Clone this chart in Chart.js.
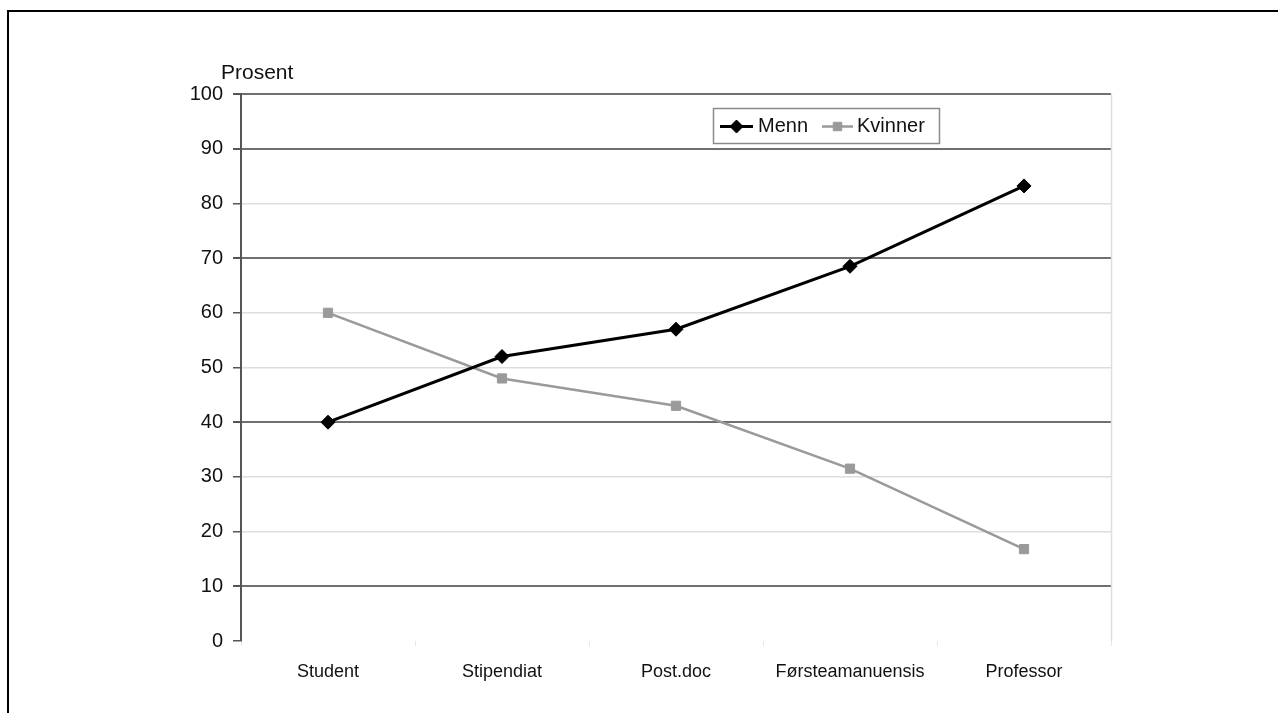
<!DOCTYPE html>
<html>
<head>
<meta charset="utf-8">
<script src="https://cdn.jsdelivr.net/npm/chart.js@4/dist/chart.umd.min.js"></script>
<style>
  html, body { margin: 0; padding: 0; background: #fff; }
  #wrap { position: relative; width: 1278px; height: 713px; }
</style>
</head>
<body>
<div id="wrap"><canvas id="chart" width="1278" height="713"></canvas></div>
<script>
// data
const categories = ['Student', 'Stipendiat', 'Post.doc', 'Førsteamanuensis', 'Professor'];
const menn = [40, 52, 57, 68.5, 83.2];
const kvinner = [60, 48, 43, 31.5, 16.8];
const yTicks = [0, 10, 20, 30, 40, 50, 60, 70, 80, 90, 100];
const darkGrid = [100, 90, 70, 40, 10]; // scanned picture: some gridlines come out darker

const FONT = '"Liberation Sans", Arial, sans-serif';

// frame, y title, legend box, right edge of plot
const extras = {
  id: 'extras',
  beforeDraw(chart) {
    const c = chart.ctx;
    c.save();
    c.fillStyle = '#fff';
    c.fillRect(0, 0, chart.width, chart.height);
    c.fillStyle = '#000';
    c.fillRect(7, 10, chart.width - 7, 2);
    c.fillRect(7, 10, 2, chart.height - 10);
    c.restore();
  },
  afterDraw(chart) {
    const c = chart.ctx;
    const a = chart.chartArea;
    c.save();
    // faint right border of plot area
    c.strokeStyle = '#dedede';
    c.lineWidth = 1.5;
    c.beginPath();
    c.moveTo(a.right + 0.5, a.top);
    c.lineTo(a.right + 0.5, a.bottom);
    c.stroke();

    // "Prosent"
    c.fillStyle = '#111';
    c.font = '21px ' + FONT;
    c.textAlign = 'left';
    c.textBaseline = 'middle';
    c.fillText('Prosent', 221, 73);

    // legend
    const lx = 713, ly = 108, lw = 226, lh = 35;
    c.fillStyle = '#fff';
    c.fillRect(lx, ly, lw, lh);
    c.strokeStyle = '#8a8a8a';
    c.lineWidth = 1.5;
    c.strokeRect(lx + 0.5, ly + 0.5, lw, lh);
    const cy = ly + lh / 2 + 1;
    const items = [
      { label: 'Menn', color: '#000', width: 3, style: 'rectRot', r: 6.5, x0: 720, x1: 753, tx: 758 },
      { label: 'Kvinner', color: '#9a9a9a', width: 2.5, style: 'rect', r: 6, x0: 822, x1: 853, tx: 857 }
    ];
    items.forEach(it => {
      c.strokeStyle = it.color;
      c.lineWidth = it.width;
      c.beginPath();
      c.moveTo(it.x0, cy);
      c.lineTo(it.x1, cy);
      c.stroke();
      c.fillStyle = it.color;
      c.lineWidth = 1;
      Chart.helpers.drawPoint(c, { pointStyle: it.style, radius: it.r, borderWidth: 1 }, (it.x0 + it.x1) / 2, cy);
      c.fillStyle = '#111';
      c.font = '20px ' + FONT;
      c.textBaseline = 'middle';
      c.fillText(it.label, it.tx, cy);
    });
    c.restore();
  }
};

new Chart(document.getElementById('chart'), {
  type: 'line',
  data: {
    labels: categories,
    datasets: [
      {
        label: 'Menn',
        data: menn,
        borderColor: '#000',
        backgroundColor: '#000',
        borderWidth: 3,
        pointStyle: 'rectRot',
        pointRadius: 7,
        pointBorderWidth: 1,
        tension: 0
      },
      {
        label: 'Kvinner',
        data: kvinner,
        borderColor: '#9a9a9a',
        backgroundColor: '#9a9a9a',
        borderWidth: 2.5,
        pointStyle: 'rect',
        pointRadius: 6.5,
        pointBorderWidth: 1,
        tension: 0
      }
    ]
  },
  options: {
    responsive: false,
    animation: false,
    layout: { padding: { top: 94, right: 167, left: 0, bottom: 0 } },
    plugins: {
      legend: { display: false },
      tooltip: { enabled: false }
    },
    scales: {
      x: {
        offset: true,
        afterFit: s => { s.height = 72; },
        border: { display: false },
        grid: {
          offset: true,
          drawOnChartArea: false,
          tickLength: 5,
          color: '#e6e6e6'
        },
        ticks: {
          color: '#111',
          font: { family: FONT, size: 18 },
          padding: 15,
          maxRotation: 0
        }
      },
      y: {
        min: 0,
        max: 100,
        afterFit: s => { s.width = 241; },
        afterBuildTicks: s => { s.ticks = yTicks.map(v => ({ value: v })); },
        border: { display: true, color: '#555', width: 2 },
        grid: {
          color: ctx => {
            const v = ctx.tick && ctx.tick.value;
            if (v === 0) return 'rgba(0,0,0,0)';
            return darkGrid.includes(v) ? '#6f6f6f' : '#dddddd';
          },
          lineWidth: ctx => (darkGrid.includes(ctx.tick && ctx.tick.value) ? 2 : 1.5),
          tickColor: '#555',
          tickLength: 8
        },
        ticks: {
          color: '#111',
          font: { family: FONT, size: 20 },
          padding: 10
        }
      }
    }
  },
  plugins: [extras]
});
</script>
</body>
</html>
